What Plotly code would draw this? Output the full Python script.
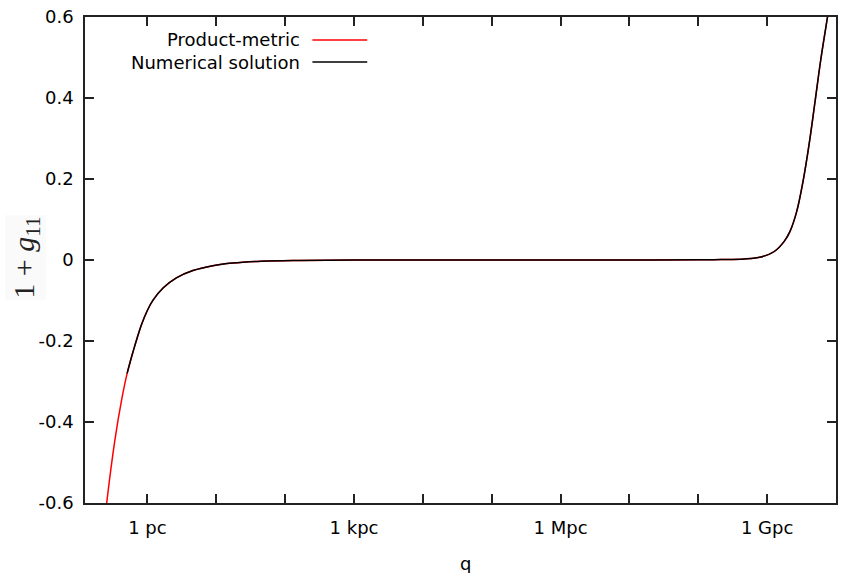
import plotly.graph_objects as go

# Radial coordinate q in parsec and the metric component 1 + g_11
q_product = [0.220, 0.256, 0.337, 0.421, 0.507, 0.619, 0.818, 1.0,
             1.205, 1.683, 2.63, 4.57, 8.89, 17.3, 44.7, 158, 1e3, 1e4, 1e5,
             1e6, 1e7, 1e8, 2.14e8, 4.66e8, 8.11e8, 1.27e9, 1.77e9, 2.14e9,
             2.69e9, 3.31e9, 4.06e9, 4.97e9, 5.98e9, 7.53e9, 8.59e9]
g_product = [-0.71, -0.60, -0.444, -0.346, -0.280, -0.226, -0.160,
             -0.124, -0.099, -0.069, -0.044, -0.026, -0.014, -0.0074, -0.003,
             -0.001, 0.0, 0.0, 0.0, 0.0, 0.0, 0.0005, 0.001, 0.0025, 0.0074,
             0.021, 0.046, 0.070, 0.120, 0.193, 0.285, 0.392, 0.492, 0.60, 0.66]

# The numerical curve begins at q ≈ 0.5 pc and coincides with the product metric
q_numeric = q_product[4:]
g_numeric = g_product[4:]

decades = list(range(0, 11))
decade_labels = {0: "1 pc", 3: "1 kpc", 6: "1 Mpc", 9: "1 Gpc"}
y_ticks = [-0.6, -0.4, -0.2, 0, 0.2, 0.4, 0.6]
y_tick_text = ["-0.6", "-0.4", "-0.2", "0", "0.2", "0.4", "0.6"]

series = [
    ("Product-metric", q_product, g_product, "#ff0000"),
    ("Numerical solution", q_numeric, g_numeric, "#000000"),
]

FONT = "DejaVu Sans"
fig = go.Figure()
for name, xs, ys, color in series:
    fig.add_trace(go.Scatter(
        x=xs, y=ys, mode="lines", name=name,
        line=dict(color=color, width=1.5, shape="spline", smoothing=1.0),
        showlegend=False,
    ))

axis_common = dict(
    showline=True, linecolor="#222", linewidth=1.5, mirror="ticks",
    ticks="inside", ticklen=9, tickwidth=1.5, tickcolor="#222",
    showgrid=False, zeroline=False,
    tickfont=dict(family=FONT, size=18, color="#000"),
)

fig.update_xaxes(
    type="log", range=[-0.907, 10.0],
    tickvals=[10 ** k for k in decades],
    ticktext=[decade_labels.get(k, "") for k in decades],
    ticklabelstandoff=8,
    **axis_common,
)
fig.update_yaxes(
    range=[-0.6, 0.6], tickvals=y_ticks, ticktext=y_tick_text,
    ticklabelstandoff=6,
    **axis_common,
)

# Key drawn gnuplot-style: right-aligned labels followed by a line sample
x0, x1, xt = 0.3028, 0.3758, 0.2895
for (name, _, _, color), yk in zip(series, [0.9527, 0.9074]):
    fig.add_annotation(xref="paper", yref="paper", x=xt, y=yk, text=name,
                       showarrow=False, xanchor="right", yanchor="middle",
                       font=dict(family=FONT, size=18, color="#000"))
    fig.add_shape(type="line", xref="paper", yref="paper",
                  x0=x0, x1=x1, y0=yk, y1=yk,
                  line=dict(color=color, width=1.5))

# Axis titles
fig.add_annotation(xref="paper", yref="paper", x=0.506, y=-0.1235, text="q",
                   showarrow=False, xanchor="center", yanchor="middle",
                   font=dict(family=FONT, size=18, color="#000"))
fig.add_annotation(xref="paper", yref="paper", x=-0.0797, y=0.505, textangle=-90,
                   text="1 + <i>g</i><sub>11</sub>", showarrow=False,
                   xanchor="center", yanchor="middle", bgcolor="#fafafa",
                   font=dict(family="Liberation Serif", size=30, color="#222"))

fig.update_layout(
    width=841, height=573,
    margin=dict(l=85, r=3, t=17, b=70),
    paper_bgcolor="white", plot_bgcolor="white",
)

fig.write_html("out.html")
